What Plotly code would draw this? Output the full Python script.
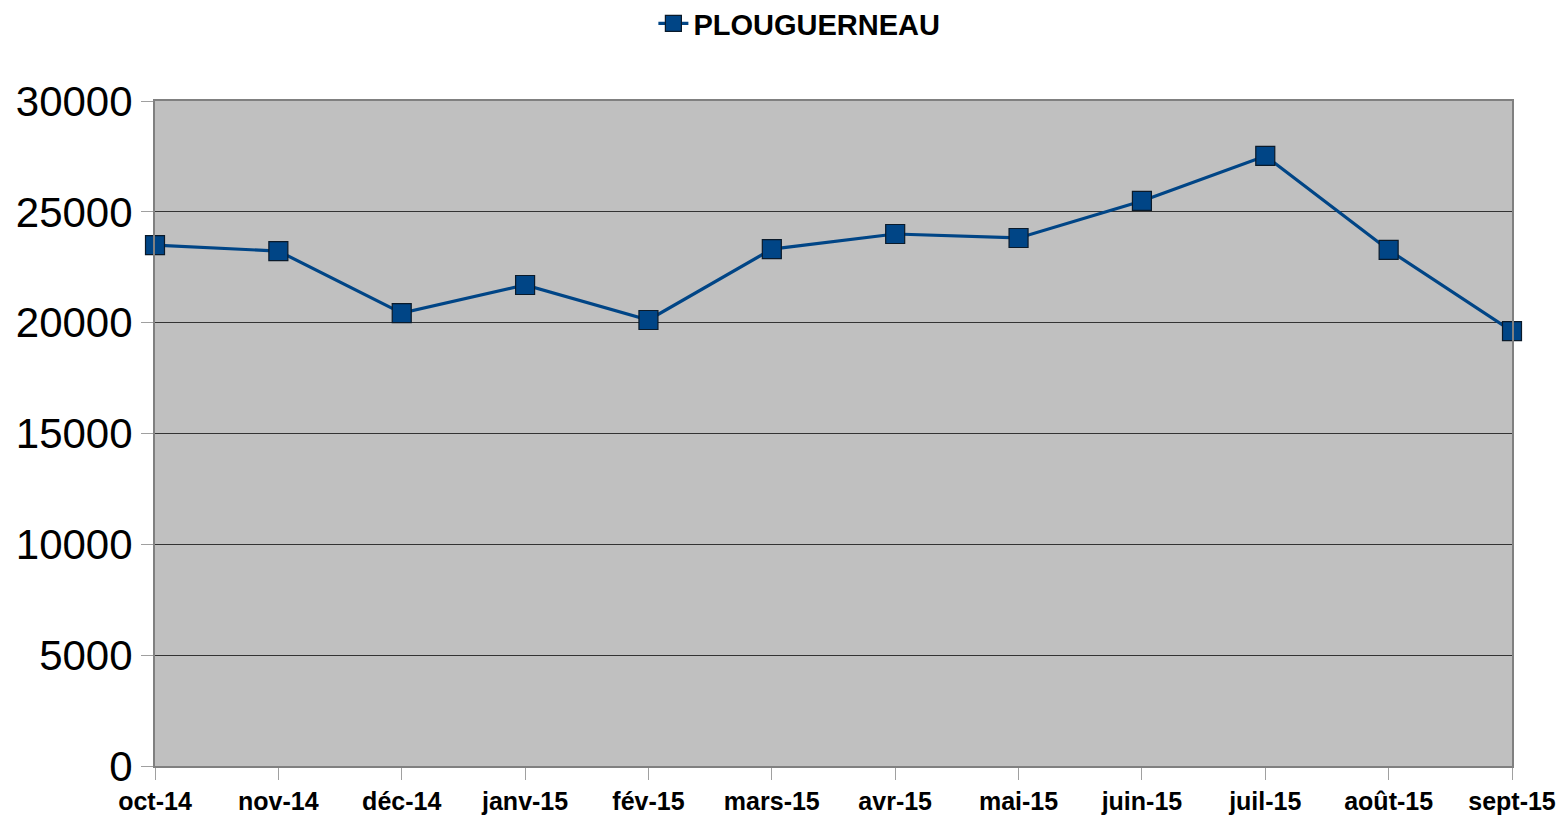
import plotly.graph_objects as go

months = ["oct-14", "nov-14", "déc-14", "janv-15", "fév-15", "mars-15",
          "avr-15", "mai-15", "juin-15", "juil-15", "août-15", "sept-15"]
values = [23500, 23230, 20430, 21700, 20120, 23320,
          24000, 23820, 25490, 27520, 23280, 19620]
series_name = "PLOUGUERNEAU"

fig = go.Figure()
fig.add_trace(go.Scatter(
    x=list(range(len(months))), y=values, name=series_name,
    mode="lines+markers",
    line=dict(color="#004586", width=3.2),
    marker=dict(symbol="square", size=19, color="#004586",
                line=dict(color="#0a1a2a", width=1.2)),
    cliponaxis=False,
))

fig.update_layout(
    width=1564, height=820,
    margin=dict(l=147, r=60, t=93, b=62),
    paper_bgcolor="white",
    plot_bgcolor="#c0c0c0",
    font=dict(family="Liberation Sans, Arial, sans-serif", color="black"),
    showlegend=True,
    legend=dict(orientation="h", xref="container", yref="container",
                x=0.506, xanchor="center", y=0.981, yanchor="middle",
                font=dict(size=29, family="Liberation Sans, Arial, sans-serif", weight="bold"),
                itemwidth=30, bgcolor="rgba(0,0,0,0)"),
    xaxis=dict(
        tickmode="array", tickvals=list(range(len(months))), ticktext=months,
        range=[0, len(months) - 1], automargin=False,
        showgrid=False, zeroline=False,
        showline=True, linecolor="#808080", linewidth=2, mirror=True,
        ticks="outside", ticklen=12, tickcolor="#a0a0a0", tickwidth=1,
        tickfont=dict(size=25, weight="bold"),
    ),
    yaxis=dict(
        range=[0, 30000], tickmode="linear", tick0=0, dtick=5000,
        tickformat="d", automargin=False,
        showgrid=True, gridcolor="#333333", gridwidth=1,
        zeroline=False,
        showline=True, linecolor="#808080", linewidth=2, mirror=True,
        ticks="outside", ticklen=12, tickcolor="#a0a0a0", tickwidth=1,
        tickfont=dict(size=42),
    ),
)

fig.write_html("out.html")
